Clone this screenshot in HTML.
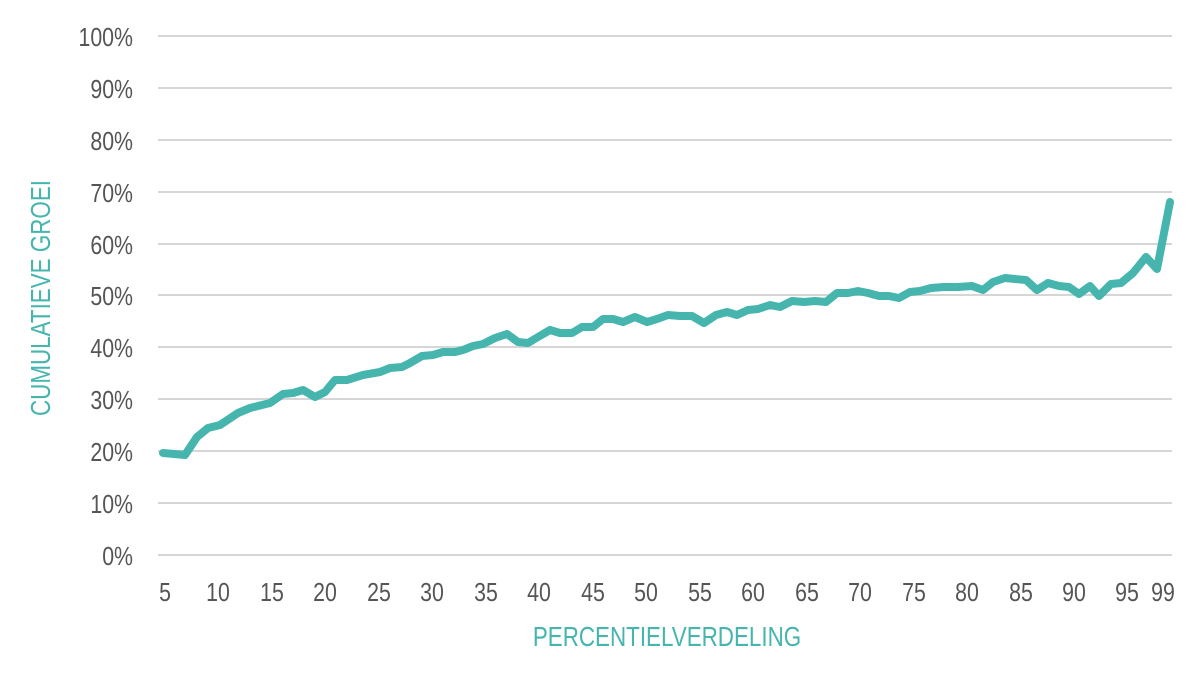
<!DOCTYPE html>
<html><head><meta charset="utf-8"><style>
html,body{margin:0;padding:0;background:#fff;}
svg{display:block;}
text{font-family:"Liberation Sans",sans-serif;}
</style></head><body>
<svg width="1200" height="687" viewBox="0 0 1200 687" xmlns="http://www.w3.org/2000/svg">
<g stroke="#d6d6d6" stroke-width="2">
<line x1="158" y1="36" x2="1172" y2="36"/>
<line x1="158" y1="88" x2="1172" y2="88"/>
<line x1="158" y1="140" x2="1172" y2="140"/>
<line x1="158" y1="192" x2="1172" y2="192"/>
<line x1="158" y1="244" x2="1172" y2="244"/>
<line x1="158" y1="295" x2="1172" y2="295"/>
<line x1="158" y1="347" x2="1172" y2="347"/>
<line x1="158" y1="399" x2="1172" y2="399"/>
<line x1="158" y1="451" x2="1172" y2="451"/>
<line x1="158" y1="503" x2="1172" y2="503"/>
<line x1="158" y1="555" x2="1172" y2="555"/>
</g>
<g fill="#555" font-size="26" text-anchor="end">
<text transform="translate(133,46) scale(0.82,1)">100%</text>
<text transform="translate(133,98) scale(0.82,1)">90%</text>
<text transform="translate(133,150) scale(0.82,1)">80%</text>
<text transform="translate(133,202) scale(0.82,1)">70%</text>
<text transform="translate(133,254) scale(0.82,1)">60%</text>
<text transform="translate(133,305) scale(0.82,1)">50%</text>
<text transform="translate(133,357) scale(0.82,1)">40%</text>
<text transform="translate(133,409) scale(0.82,1)">30%</text>
<text transform="translate(133,461) scale(0.82,1)">20%</text>
<text transform="translate(133,513) scale(0.82,1)">10%</text>
<text transform="translate(133,565) scale(0.82,1)">0%</text>
</g>
<g fill="#555" font-size="26" text-anchor="middle">
<text transform="translate(165,601) scale(0.82,1)">5</text>
<text transform="translate(218,601) scale(0.82,1)">10</text>
<text transform="translate(272,601) scale(0.82,1)">15</text>
<text transform="translate(325,601) scale(0.82,1)">20</text>
<text transform="translate(379,601) scale(0.82,1)">25</text>
<text transform="translate(432,601) scale(0.82,1)">30</text>
<text transform="translate(486,601) scale(0.82,1)">35</text>
<text transform="translate(539,601) scale(0.82,1)">40</text>
<text transform="translate(593,601) scale(0.82,1)">45</text>
<text transform="translate(646,601) scale(0.82,1)">50</text>
<text transform="translate(700,601) scale(0.82,1)">55</text>
<text transform="translate(753,601) scale(0.82,1)">60</text>
<text transform="translate(807,601) scale(0.82,1)">65</text>
<text transform="translate(860,601) scale(0.82,1)">70</text>
<text transform="translate(914,601) scale(0.82,1)">75</text>
<text transform="translate(967,601) scale(0.82,1)">80</text>
<text transform="translate(1021,601) scale(0.82,1)">85</text>
<text transform="translate(1074,601) scale(0.82,1)">90</text>
<text transform="translate(1127,601) scale(0.82,1)">95</text>
<text transform="translate(1163,601) scale(0.82,1)">99</text>
</g>
<text transform="translate(667,646) scale(0.8,1)" fill="#45b5ae" font-size="28" text-anchor="middle">PERCENTIELVERDELING</text>
<text transform="translate(50,298) rotate(-90) scale(0.8,1)" fill="#45b5ae" font-size="28" text-anchor="middle">CUMULATIEVE GROEI</text>
<polyline fill="none" stroke="#45b5ae" stroke-width="8" stroke-linejoin="round" stroke-linecap="round" points="
163,453 185,455 197,437 208,428 220,425 238,413 250,408 270,403 283,394 293,393 303,390 315,397 325,392 335,380 347,380 363,375 380,372 390,368 402,367 410,363 422,356 433,355 443,352 455,352 463,350 473,346 483,344 495,338 507,334 518,342 528,343 538,337 550,330 560,333 572,333 582,327 593,327 603,319 613,319 623,322 635,317 647,322 657,319 668,315
680,316 692,316 704,323 716,315 727,312 737,315 748,310 758,309 770,305 780,307 792,301 804,302 815,301 826,302 837,293 848,293 858,291 868,293 879,296 889,296 899,298 910,292 920,291 931,288 944,287 958,287 972,286 983,290 993,282 1005,278 1015,279 1026,280 1037,290 1048,283 1059,286 1069,287 1079,294 1090,286 1099,296 1111,284 1121,283 1133,273 1146,257 1157,269 1170,202"/>
</svg>
</body></html>
